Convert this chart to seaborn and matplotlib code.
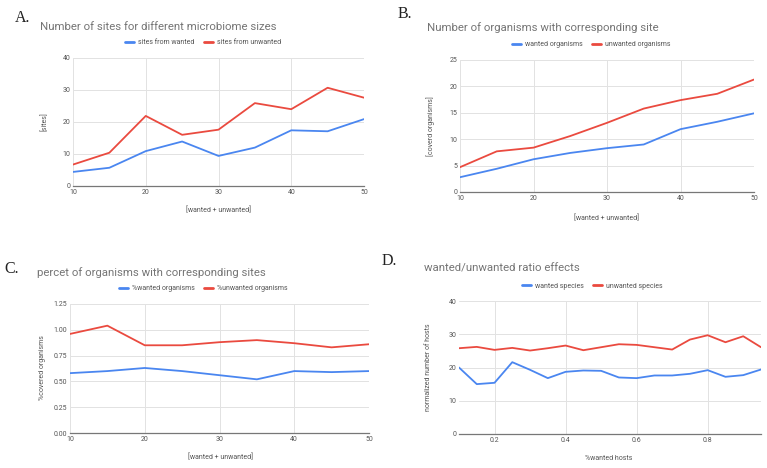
import numpy as np
import pandas as pd
import matplotlib
matplotlib.use("Agg")
import matplotlib.pyplot as plt
import seaborn as sns
from matplotlib.lines import Line2D

sns.set_theme(style="white")
plt.rcParams['font.family'] = ['Roboto', 'DejaVu Sans']

# ---------------- data ----------------
sizes = [10, 15, 20, 25, 30, 35, 40, 45, 50]

a_wanted = [4.4, 5.7, 10.9, 13.9, 9.4, 12.0, 17.4, 17.1, 20.9]
a_unwanted = [6.7, 10.4, 21.9, 16.0, 17.6, 25.9, 24.0, 30.7, 27.6]

b_wanted = [2.8, 4.4, 6.2, 7.4, 8.3, 9.0, 11.9, 13.3, 14.9]
b_unwanted = [4.7, 7.7, 8.4, 10.6, 13.1, 15.8, 17.4, 18.6, 21.3]

c_wanted = [0.58, 0.60, 0.63, 0.60, 0.56, 0.52, 0.60, 0.59, 0.60]
c_unwanted = [0.96, 1.04, 0.85, 0.85, 0.88, 0.90, 0.87, 0.83, 0.86]

ratios = [0.10, 0.15, 0.20, 0.25, 0.30, 0.35, 0.40, 0.45, 0.50,
          0.55, 0.60, 0.65, 0.70, 0.75, 0.80, 0.85, 0.90, 0.95]
d_wanted = [20.0, 15.0, 15.4, 21.6, 19.3, 16.8, 18.7, 19.1, 19.0,
            17.0, 16.8, 17.6, 17.6, 18.1, 19.2, 17.2, 17.7, 19.4]
d_unwanted = [25.8, 26.2, 25.3, 25.9, 25.1, 25.8, 26.6, 25.2, 26.1,
              27.0, 26.8, 26.1, 25.4, 28.4, 29.7, 27.6, 29.4, 26.1]

BLUE = '#4a86f0'
RED = '#ea4a3f'
GRID = '#e2e2e2'
TXT = '#555555'
TITLE = '#757575'

W, H = 767, 468
fig = plt.figure(figsize=(W / 100, H / 100), dpi=100)
fig.patch.set_facecolor('white')


def rect(l, r, t, b):
    return [l / W, 1 - b / H, (r - l) / W, (b - t) / H]


def ftext(x, y, s, **kw):
    fig.text(x / W, 1 - y / H, s, **kw)


def panel(box, x, w, u, names, xlim, ylim, xticks, yticks, xfmt, yfmt,
          xlabel, ylabel, letter, letter_xy, title, title_xy, leg_xy):
    ax = fig.add_axes(rect(*box))
    df = pd.DataFrame({
        'x': list(x) * 2,
        'y': list(w) + list(u),
        'series': [names[0]] * len(x) + [names[1]] * len(x),
    })
    sns.lineplot(data=df, x='x', y='y', hue='series',
                 palette={names[0]: BLUE, names[1]: RED},
                 linewidth=1.3, ax=ax, legend=False, sort=False)
    ax.set_xlim(*xlim)
    ax.set_ylim(*ylim)
    ax.set_xticks(xticks)
    ax.set_yticks(yticks)
    ax.set_xticklabels([xfmt(v) for v in xticks])
    ax.set_yticklabels([yfmt(v) for v in yticks])
    ax.grid(True, color=GRID, linewidth=0.7)
    ax.set_axisbelow(True)
    for s in ['top', 'right', 'left']:
        ax.spines[s].set_visible(False)
    ax.spines['bottom'].set_color('#777777')
    ax.spines['bottom'].set_linewidth(0.9)
    ax.tick_params(axis='both', length=0, labelsize=5, colors=TXT, pad=2)
    ax.set_xlabel('')
    ax.set_ylabel('')
    # labels in figure pixel coords
    ftext(xlabel[1], xlabel[2], xlabel[0], fontsize=5, color=TXT,
          ha='center', va='center')
    ftext(ylabel[1], ylabel[2], ylabel[0], fontsize=5, color=TXT,
          ha='center', va='center', rotation=90)
    ftext(letter_xy[0], letter_xy[1], letter, fontsize=11.5, color='#222222',
          family=['Liberation Serif', 'DejaVu Serif'], ha='left', va='center')
    ftext(title_xy[0], title_xy[1], title, fontsize=8.2, color=TITLE,
          ha='left', va='center')
    handles = [Line2D([], [], color=BLUE, linewidth=2.0),
               Line2D([], [], color=RED, linewidth=2.0)]
    fig.legend(handles, names, loc='center',
               bbox_to_anchor=(leg_xy[0] / W, 1 - leg_xy[1] / H),
               ncol=2, frameon=False, fontsize=5, handlelength=1.3,
               handletextpad=0.6, columnspacing=1.3, labelcolor=TXT)
    return ax


fmt_int = lambda v: f"{v:g}"

panel((73, 364, 58, 186), sizes, a_wanted, a_unwanted,
      ['sites from wanted', 'sites from unwanted'],
      (10, 50), (0, 40), [10, 20, 30, 40, 50], [0, 10, 20, 30, 40],
      fmt_int, fmt_int,
      ('[wanted + unwanted]', 218, 210), ('[sites]', 45, 122),
      'A.', (15, 18), 'Number of sites for different microbiome sizes', (40, 27),
      (203, 43))

panel((460, 754, 60, 192), sizes, b_wanted, b_unwanted,
      ['wanted organisms', 'unwanted organisms'],
      (10, 50), (0, 25), [10, 20, 30, 40, 50], [0, 5, 10, 15, 20, 25],
      fmt_int, fmt_int,
      ('[wanted + unwanted]', 607, 218), ('[coverd organisms]', 431, 126),
      'B.', (398, 14), 'Number of organisms with corresponding site', (427, 28),
      (591, 45))

panel((70, 369, 304, 433), sizes, c_wanted, c_unwanted,
      ['%wanted organisms', '%unwanted organisms'],
      (10, 50), (0, 1.25), [10, 20, 30, 40, 50], [0, 0.25, 0.5, 0.75, 1.0, 1.25],
      fmt_int, lambda v: f"{v:.2f}",
      ('[wanted + unwanted]', 221, 457), ('%covered organisms', 42, 368),
      'C.', (4, 269), 'percet of organisms with corresponding sites', (37, 273),
      (203, 289))

panel((459, 761, 301, 434), ratios, d_wanted, d_unwanted,
      ['wanted species', 'unwanted species'],
      (0.1, 0.95), (0, 40), [0.2, 0.4, 0.6, 0.8], [0, 10, 20, 30, 40],
      lambda v: f"{v:.1f}", fmt_int,
      ('%wanted hosts', 609, 459), ('normalized number of hosts', 429, 367),
      'D.', (382, 261), 'wanted/unwanted ratio effects', (424, 269),
      (592, 286))

fig.savefig('out.png', dpi=100, facecolor='white')
